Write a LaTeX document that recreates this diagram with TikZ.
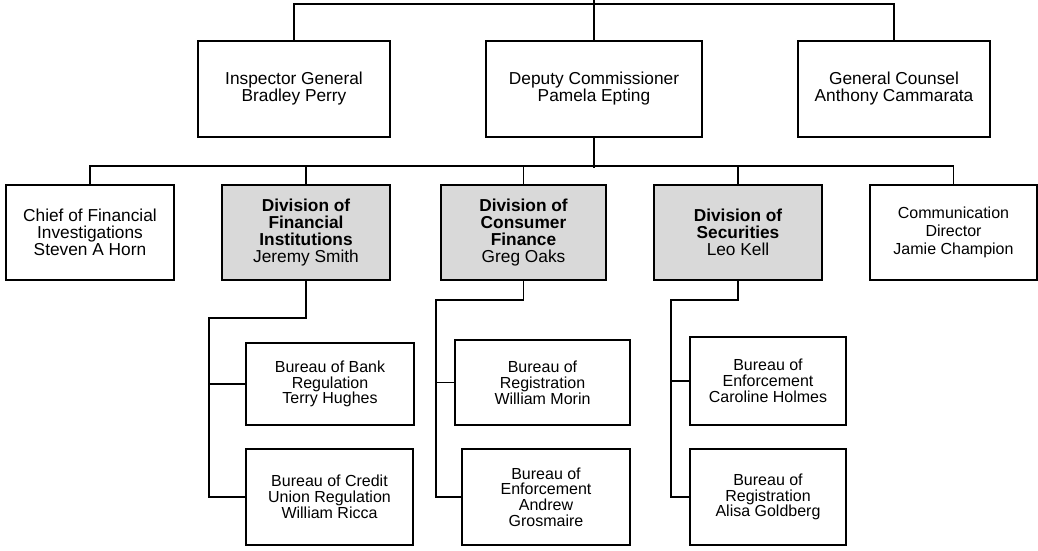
\documentclass[tikz,border=0pt]{standalone}
\usepackage{fontspec}
\setmainfont{Liberation Sans}
\begin{document}
\begin{tikzpicture}[x=1pt,y=1pt,
  box/.style={draw=black,line width=1.8pt,fill=white,inner sep=0pt,align=center,font=\fontsize{17.3}{17}\selectfont},
  div/.style={box,fill=gray!30},
  small/.style={box,font=\fontsize{16}{15.8}\selectfont},
  conn/.style={draw=black,line width=1.8pt}]
\useasboundingbox (0,0) rectangle (1038,-550);
% tier 1
\node[box,minimum width=192pt,minimum height=96pt] (ig) at (294,-89) {Inspector General\\Bradley Perry};
\node[box,minimum width=216pt,minimum height=96pt] (dc) at (594,-89) {Deputy Commissioner\\Pamela Epting};
\node[box,minimum width=192pt,minimum height=96pt] (gc) at (894,-89) {General Counsel\\Anthony Cammarata};
% tier 2
\node[box,minimum width=168pt,minimum height=95pt] (chief) at (90,-232.5) {Chief of Financial\\Investigations\\Steven A Horn};
\node[div,minimum width=168pt,minimum height=95pt] (fi) at (306,-232.5) {\textbf{Division of}\\\textbf{Financial}\\\textbf{Institutions}\\Jeremy Smith};
\node[div,minimum width=165pt,minimum height=95pt] (cf) at (523.5,-232.5) {\textbf{Division of}\\\textbf{Consumer}\\\textbf{Finance}\\Greg Oaks};
\node[div,minimum width=168pt,minimum height=95pt] (sec) at (738,-232.5) {\textbf{Division of}\\\textbf{Securities}\\Leo Kell};
\node[box,font=\fontsize{16}{18.3}\selectfont,minimum width=167pt,minimum height=95pt] (comm) at (953.5,-232.5) {Communication\\Director\\Jamie Champion};
% tier 3
\node[small,minimum width=168pt,minimum height=82pt] (bank) at (330,-384) {Bureau of Bank\\Regulation\\Terry Hughes};
\node[small,minimum width=167pt,minimum height=96pt] (credit) at (329.5,-497) {Bureau of Credit\\Union Regulation\\William Ricca};
\node[small,minimum width=175pt,minimum height=85pt] (regw) at (542.5,-382.5) {Bureau of\\Registration\\William Morin};
\node[small,minimum width=168pt,minimum height=96pt] (enfa) at (546,-497) {Bureau of\\Enforcement\\Andrew\\Grosmaire};
\node[small,minimum width=156pt,minimum height=88pt] (enfc) at (768,-381) {Bureau of\\Enforcement\\Caroline Holmes};
\node[small,minimum width=156pt,minimum height=96pt] (rega) at (768,-497) {Bureau of\\Registration\\Alisa Goldberg};
% connectors
\coordinate (top) at (594,0);
\draw[conn] (top) -- (dc.north);
\draw[conn] (ig.north) -- ++(0,36) -| (gc.north);
\draw[conn] (dc.south) -- ++(0,-30);
\draw[conn] (chief.north) -- ++(0,18) -| (comm.north);
\draw[conn] (fi.north) -- ++(0,18);
\draw[conn] (cf.north) -- ++(0,18);
\draw[conn] (sec.north) -- ++(0,18);
\draw[conn] (fi.south) -- ++(0,-37) -| ([xshift=-36pt]credit.west) -- (credit.west);
\draw[conn] (bank.west) -- ++(-36,0);
\draw[conn] (cf.south) -- ++(0,-19) -| ([xshift=-25pt]enfa.west) -- (enfa.west);
\draw[conn] (regw.west) -- ++(-18,0);
\draw[conn] (sec.south) -- ++(0,-19) -| ([xshift=-18pt]rega.west) -- (rega.west);
\draw[conn] (enfc.west) -- ++(-18,0);
\end{tikzpicture}
\end{document}
